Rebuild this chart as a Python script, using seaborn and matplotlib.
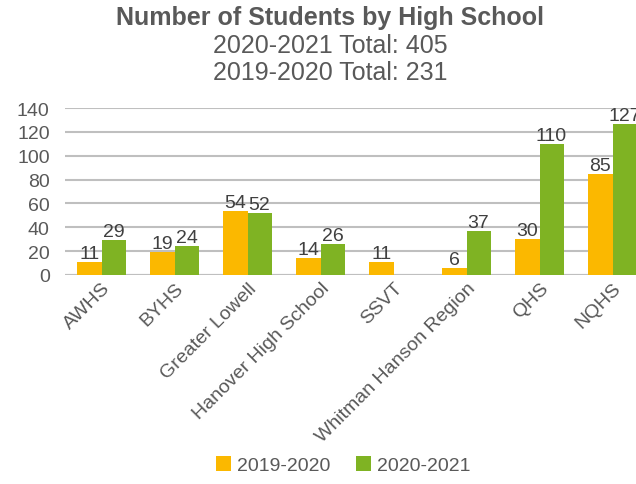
import matplotlib
matplotlib.use("Agg")
import matplotlib.pyplot as plt
import seaborn as sns
import pandas as pd

# data
schools = ["AWHS", "BYHS", "Greater Lowell", "Hanover High School", "SSVT",
           "Whitman Hanson Region", "QHS", "NQHS"]
y2019 = [11, 19, 54, 14, 11, 6, 30, 85]
y2021 = [29, 24, 52, 26, 0, 37, 110, 127]
years = ["2019-2020", "2020-2021"]

df = pd.DataFrame({
    "school": schools * 2,
    "students": y2019 + y2021,
    "year": [years[0]] * len(schools) + [years[1]] * len(schools),
})

sns.set_style("white")
plt.rcParams["font.family"] = ["Liberation Sans", "DejaVu Sans"]
gray = "#595959"

fig = plt.figure(figsize=(6.36, 4.85), dpi=100)
# axis runs past the right edge like the original screenshot
ax = fig.add_axes([65 / 636, 209 / 485, 584 / 636, 167 / 485])

sns.barplot(data=df, x="school", y="students", hue="year", ax=ax,
            palette=["#FBB800", "#7FB323"], width=0.66, saturation=1,
            linewidth=0)

ax.set_ylim(0, 140)
ax.set_yticks(range(0, 141, 20))
ax.yaxis.grid(True, color="#BFBFBF", linewidth=1.5)
ax.set_axisbelow(True)
for s in ax.spines.values():
    s.set_visible(False)
ax.axhline(0, color="#BFBFBF", linewidth=1.5, zorder=0)

ax.set_xlabel("")
ax.set_ylabel("")
ax.tick_params(axis="y", labelsize=14, labelcolor=gray, length=0, pad=11)
ax.tick_params(axis="x", labelsize=14, labelcolor=gray, length=0, pad=3)
plt.setp(ax.get_xticklabels(), rotation=45, ha="right", rotation_mode="anchor")

for cont in ax.containers:
    labels = [f"{int(v)}" if v > 0 else "" for v in cont.datavalues]
    ax.bar_label(cont, labels=labels, fontsize=14, color="#404040", padding=0)

ax.legend(loc="lower center", bbox_to_anchor=(343 / 636, 0.0), bbox_transform=fig.transFigure,
          ncol=2, frameon=False, fontsize=14, handlelength=0.8, handleheight=0.8,
          handletextpad=0.3, columnspacing=1.3, labelcolor=gray, borderaxespad=0.1)

fig.text(0.519, 0.962, "Number of Students by High School", ha="center", va="center",
         fontsize=18, fontweight="bold", color=gray)
fig.text(0.519, 0.905, "2020-2021 Total: 405", ha="center", va="center",
         fontsize=18, color=gray)
fig.text(0.519, 0.850, "2019-2020 Total: 231", ha="center", va="center",
         fontsize=18, color=gray)

fig.savefig("out.png", dpi=100)
